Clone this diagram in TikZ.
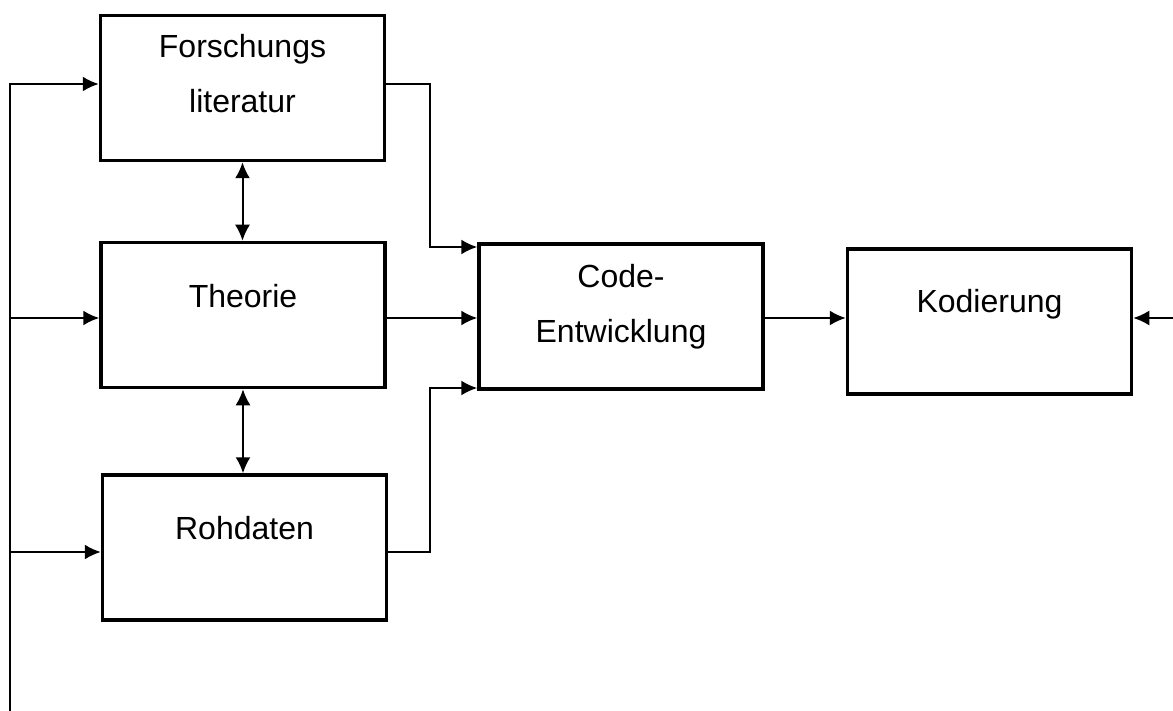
\documentclass[tikz,border=0pt]{standalone}
\usepackage{fontspec}
\setmainfont{Liberation Sans}
\usepackage{tikz}
\usetikzlibrary{arrows.meta, positioning}

\tikzset{
    kasten/.style={draw, line width=3.5pt, minimum width=284pt, minimum height=145pt, inner sep=0pt},
    schrift/.style={anchor=base, inner sep=0pt, font=\fontsize{32}{38}\selectfont},
    pfeil/.style={line width=2pt}
}

\begin{document}
\begin{tikzpicture}[>={Latex[length=16pt,width=15pt]}, x=1pt, y=-1pt]
    \useasboundingbox (0,0) rectangle (1173,711);

    % Kästen
    \node[kasten] (lit)  at (242.5,88)  {};
    \node[kasten] (theo) at (243,315)   {};
    \node[kasten] (roh)  at (244.5,547.5) {};
    \node[kasten] (code) at (621,316.5) {};
    \node[kasten] (kod)  at (989.5,321.5) {};

    % Beschriftungen
    \node[schrift] (litA)  at (242.5,58)  {Forschungs};
    \node[schrift] (litB)  at (242.5,113) {literatur};
    \node[schrift] (theoT) at (243,308)   {Theorie};
    \node[schrift] (rohT)  at (244.5,539) {Rohdaten};
    \node[schrift] (codeA) at (621,288)   {Code-};
    \node[schrift] (codeB) at (621,342)   {Entwicklung};
    \node[schrift] (kodT)  at (989.5,313) {Kodierung};

    % Hilfspunkte
    \coordinate (unten) at (10,711);
    \coordinate (b2) at (10,318);
    \coordinate (b3) at (10,552);
    \coordinate (rechts) at (1173,318);

    % linke Leitung
    \draw[pfeil, ->] (unten) |- (lit.west |- 0,84);
    \draw[pfeil, ->] (b2) -- (theo.west |- b2);
    \draw[pfeil, ->] (b3) -- (roh.west |- b3);

    % Doppelpfeile
    \draw[pfeil, <->] (lit.south) -- (lit.south |- theo.north);
    \draw[pfeil, <->] (theo.south) -- (theo.south |- roh.north);

    % zur Code-Entwicklung
    \draw[pfeil, ->] (lit.east |- 0,84) -| (430,247) -- (code.west |- 0,247);
    \draw[pfeil, ->] (theo.east |- 0,318) -- (code.west |- 0,318);
    \draw[pfeil, ->] (roh.east |- 0,552) -| (430,388) -- (code.west |- 0,388);

    % zur Kodierung
    \draw[pfeil, ->] (code.east |- 0,318) -- (kod.west |- 0,318);
    \draw[pfeil, ->] (rechts) -- (kod.east |- rechts);
\end{tikzpicture}
\end{document}
